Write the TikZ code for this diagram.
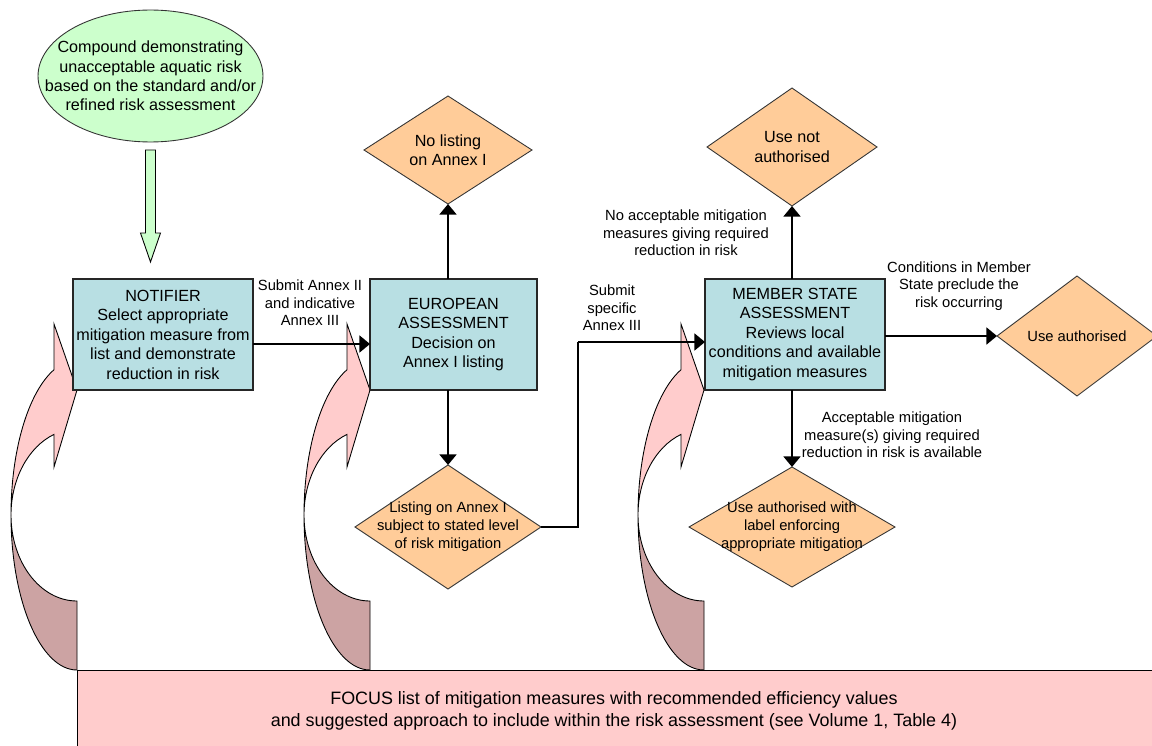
\documentclass[tikz,border=0pt]{standalone}
\usepackage{fontspec}
\setmainfont{Liberation Sans}
\usetikzlibrary{arrows.meta,shapes.geometric}

\definecolor{tealbox}{RGB}{184,223,227}
\definecolor{tanbox}{RGB}{255,204,153}
\definecolor{mintbox}{RGB}{204,255,204}
\definecolor{pinkbox}{RGB}{255,204,204}
\definecolor{pinkdark}{RGB}{204,163,163}

\tikzset{
  stagebox/.style={draw=black!85, fill=tealbox, line width=0.7pt, inner sep=0pt, outer sep=0pt, align=center, font=\fontsize{9.2}{11.1}\selectfont},
  decision/.style={diamond, draw=black!80, fill=tanbox, line width=0.5pt, inner sep=0pt, outer sep=0pt},
  dectext/.style={align=center, inner sep=0pt, font=\fontsize{8.4}{10.2}\selectfont},
  bigdectext/.style={align=center, inner sep=0pt, font=\fontsize{9.2}{11}\selectfont},
  edgetext/.style={align=center, inner sep=0pt, font=\fontsize{8.4}{9.9}\selectfont},
  flow/.style={line width=1.4pt, -{Triangle[length=6pt, width=9.5pt]}},
  curved/.style={draw=black, line width=0.5pt},
}

\begin{document}
\begin{tikzpicture}[x=0.02cm, y=0.02cm]
\useasboundingbox (0,0) rectangle (1152,745);
\clip (0,0) rectangle (1152,745);

% focus list along the bottom
\draw[fill=pinkbox, line width=0.5pt] (77,-20) rectangle (1170,75);
\node[align=center, inner sep=0pt, font=\fontsize{10.2}{12.3}\selectfont] (focus) at (614,34)
  {FOCUS list of mitigation measures with recommended efficiency values\\and suggested approach to include within the risk assessment (see Volume 1, Table 4)};

% curved arrows feeding each stage
\foreach \dx in {0,293,627} {
  \begin{scope}[shift={(\dx,0)}]
  \draw[curved, fill=pinkdark] (11,230) arc[start angle=180, end angle=270, x radius=66, y radius=155]
    -- (77,144) arc[start angle=270, end angle=180, x radius=66, y radius=86] -- cycle;
  \draw[curved, fill=pinkbox] (54,421) -- (77,355) -- (54,278) -- (54,310.6)
    arc[start angle=110.4, end angle=180, x radius=66, y radius=86]
    arc[start angle=180, end angle=110.4, x radius=66, y radius=155] -- cycle;
  \end{scope}
}

% starting point
\node[ellipse, draw=black!80, fill=mintbox, line width=0.5pt, minimum width=4.5cm, minimum height=2.64cm, inner sep=0pt] (src) at (150.5,669) {};
\node[bigdectext] (srctxt) at (src) {Compound demonstrating\\unacceptable aquatic risk\\based on the standard and/or\\refined risk assessment};
\draw[fill=mintbox, line width=0.5pt] (145.5,595) -- (155.5,595) -- (155.5,512) -- (160.5,512)
  -- (150.5,483) -- (140.5,512) -- (145.5,512) -- cycle;

% stages
\node[stagebox, minimum width=3.6cm, minimum height=2.22cm] (notifier) at (163,410.5)
  {NOTIFIER\\Select appropriate\\mitigation measure from\\list and demonstrate\\reduction in risk};
\node[stagebox, minimum width=3.34cm, minimum height=2.22cm] (euro) at (453.5,410.5)
  {EUROPEAN\\ASSESSMENT\\Decision on\\Annex I listing};
\node[stagebox, minimum width=3.6cm, minimum height=2.22cm] (member) at (795,410.5)
  {MEMBER STATE\\ASSESSMENT\\Reviews local\\conditions and available\\mitigation measures};

% outcomes
\node[decision, minimum width=3.36cm, minimum height=2.16cm] (nolist) at (448,595) {};
\node[bigdectext] (nolisttxt) at (nolist) {No listing\\on Annex I};
\node[decision, minimum width=3.72cm, minimum height=2.48cm] (listing) at (448,218) {};
\node[dectext] (listingtxt) at (listing) {Listing on Annex I\\subject to stated level\\of risk mitigation};
\node[decision, minimum width=3.4cm, minimum height=2.36cm] (notauth) at (792,598) {};
\node[bigdectext] (notauthtxt) at (notauth) {Use not\\authorised};
\node[decision, minimum width=4.12cm, minimum height=2.4cm] (authwith) at (792,218) {};
\node[dectext] (authwithtxt) at (authwith) {Use authorised with\\label enforcing\\appropriate mitigation};
\node[decision, minimum width=3.2cm, minimum height=2.4cm] (auth) at (1077,409) {};
\node[dectext] (authtxt) at (auth) {Use authorised};

% connectors
\draw[flow] ([yshift=-0.19cm]notifier.east) -- ([yshift=-0.19cm]euro.west);
\draw[flow] (nolist.south |- euro.north) -- (nolist.south);
\draw[flow] (listing.north |- euro.south) -- (listing.north);
\coordinate (bend) at (578,403);
\draw[line width=0.6pt] (listing.east) -| (bend);
\draw[flow] (bend) -- (bend -| member.west);
\draw[flow] (notauth.south |- member.north) -- (notauth.south);
\draw[flow] (authwith.north |- member.south) -- (authwith.north);
\draw[flow] (member.east |- auth.west) -- (auth.west);

% connector labels
\node[edgetext] (sub1) at (310,442) {Submit Annex II\\and indicative\\Annex III};
\node[edgetext] (sub2) at (612,437) {Submit\\specific\\Annex III};
\node[edgetext] (noacc) at (686,512) {No acceptable mitigation\\measures giving required\\reduction in risk};
\node[edgetext] (cond) at (959,459) {Conditions in Member\\State preclude the\\risk occurring};
\node[edgetext] (accept) at (892,310) {Acceptable mitigation\\measure(s) giving required\\reduction in risk is available};
\end{tikzpicture}
\end{document}
